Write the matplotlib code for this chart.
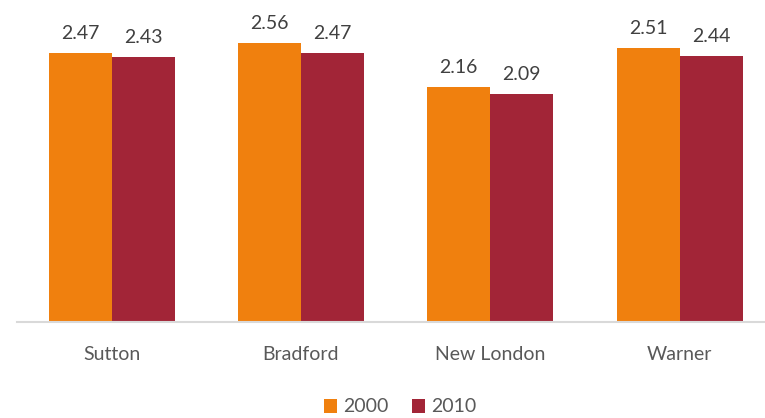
import numpy as np
import matplotlib.pyplot as plt

plt.rcParams['font.family'] = ['Lato', 'DejaVu Sans']

towns = ['Sutton', 'Bradford', 'New London', 'Warner']
years = ['2000', '2010']
vals_2000 = [2.47, 2.56, 2.16, 2.51]
vals_2010 = [2.43, 2.47, 2.09, 2.44]

c2000 = '#F0800E'
c2010 = '#A22537'

fig = plt.figure(figsize=(7.65, 4.18), dpi=100)
ax = fig.add_axes([17 / 765, 1 - 322 / 418, 748 / 765, 322 / 418])

x = np.arange(len(towns))
w = 0.333
b1 = ax.bar(x - w / 2, vals_2000, w, color=c2000, label=years[0])
b2 = ax.bar(x + w / 2, vals_2010, w, color=c2010, label=years[1])

for bars in (b1, b2):
    for r in bars:
        ax.text(r.get_x() + r.get_width() / 2, r.get_height() + 0.10,
                f'{r.get_height():.2f}', ha='center', va='bottom',
                fontsize=14, color='#404040')

ax.set_xlim(-0.5, -0.5 + 748 / 189.3)
ax.set_ylim(0, 2.954)
ax.set_yticks([])
ax.set_xticks(x)
ax.set_xticklabels(towns, fontsize=14, color='#595959')
ax.tick_params(axis='x', length=0, pad=17)
for s in ['top', 'right', 'left']:
    ax.spines[s].set_visible(False)
ax.spines['bottom'].set_color('#D9D9D9')
ax.spines['bottom'].set_linewidth(1.5)

fig.legend(loc='center', bbox_to_anchor=(400 / 765, 1 - 407 / 418), ncol=2,
           frameon=False, fontsize=14, labelcolor='#595959',
           handlelength=0.7, handleheight=0.7, handletextpad=0.3, columnspacing=1.2)

fig.savefig('out.png', dpi=100)
